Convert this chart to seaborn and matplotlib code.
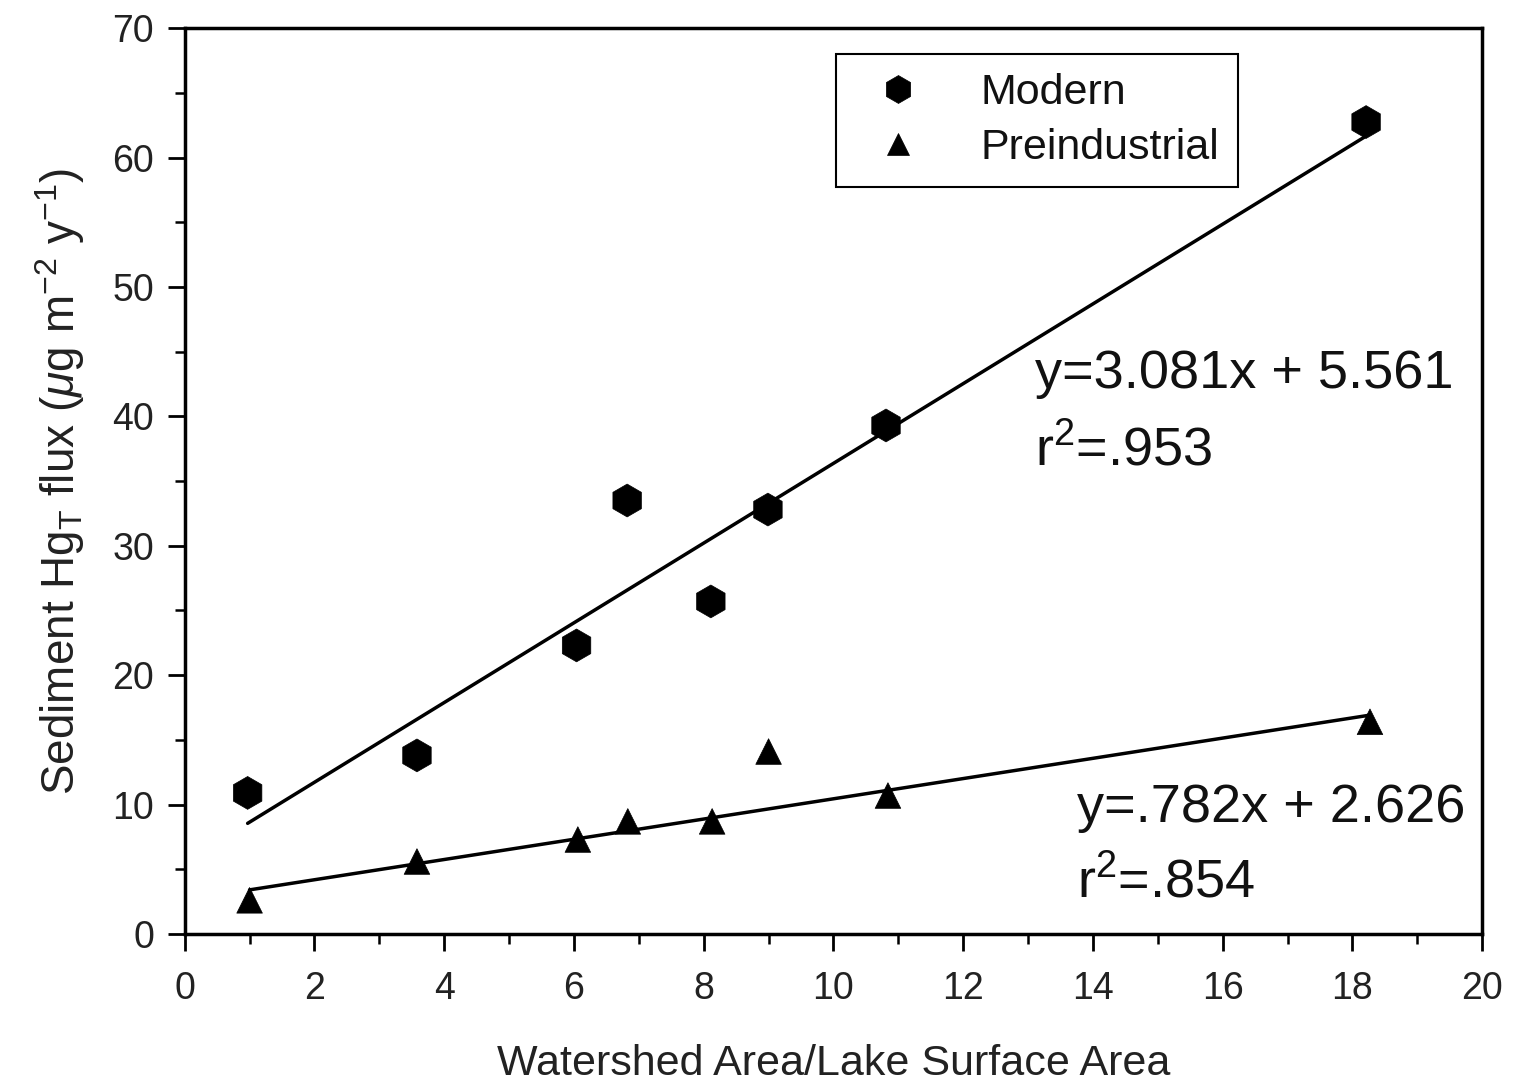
import numpy as np
import pandas as pd
import matplotlib
matplotlib.use("Agg")
import matplotlib.pyplot as plt
from matplotlib.ticker import MultipleLocator
import seaborn as sns

# Data
ratio_modern = [0.97, 3.58, 6.04, 6.82, 8.11, 8.99, 10.81, 18.21]
flux_modern = [10.9, 13.8, 22.3, 33.5, 25.7, 32.8, 39.3, 62.75]
ratio_pre = [1.0, 3.58, 6.06, 6.83, 8.13, 9.0, 10.84, 18.27]
flux_pre = [2.6, 5.6, 7.3, 8.7, 8.7, 14.1, 10.7, 16.4]

series_names = ["Modern", "Preindustrial"]
slopes = [3.081, 0.782]
intercepts = [5.561, 2.626]
r2_values = [".953", ".854"]

x_ticks = [0, 2, 4, 6, 8, 10, 12, 14, 16, 18, 20]
y_ticks = [0, 10, 20, 30, 40, 50, 60, 70]

sns.set_theme(style="white")
plt.rcParams["font.family"] = ["Liberation Sans", "DejaVu Sans"]
plt.rcParams["mathtext.fontset"] = "custom"
plt.rcParams["mathtext.rm"] = "Liberation Sans"
plt.rcParams["mathtext.it"] = "Liberation Sans:italic"

df = pd.DataFrame({
    "ratio": ratio_modern + ratio_pre,
    "flux": flux_modern + flux_pre,
    "series": ["Modern"] * len(ratio_modern) + ["Preindustrial"] * len(ratio_pre),
})

fig = plt.figure(figsize=(15.14, 10.86), dpi=100)
ax = fig.add_axes([0.122, 0.14, 0.857, 0.834])

# regression lines
for name, xs, m, b in zip(series_names, [ratio_modern, ratio_pre], slopes, intercepts):
    xe = np.array([min(xs), max(xs)])
    sns.lineplot(x=xe, y=m * xe + b, ax=ax, color="black", linewidth=2.5, legend=False)

sns.scatterplot(data=df, x="ratio", y="flux", style="series", size="series",
                markers={"Modern": "h", "Preindustrial": "^"},
                sizes={"Modern": 560, "Preindustrial": 340},
                color="black", edgecolor="black", linewidth=0.5, ax=ax, zorder=5)

ax.set_xlim(0, 20)
ax.set_ylim(0, 70)
ax.set_xticks(x_ticks)
ax.set_yticks(y_ticks)
ax.xaxis.set_minor_locator(MultipleLocator(1))
ax.yaxis.set_minor_locator(MultipleLocator(5))
ax.tick_params(axis="both", which="major", direction="out", length=12, width=2,
               labelsize=27, color="black", labelcolor="#222222",
               bottom=True, left=True)
ax.tick_params(axis="x", which="major", pad=15)
ax.tick_params(axis="y", which="major", pad=10)
ax.tick_params(axis="both", which="minor", direction="out", length=7, width=1.8,
               color="black", bottom=True, left=True)
for sp in ax.spines.values():
    sp.set_visible(True)
    sp.set_color("black")
    sp.set_linewidth(2.5)

ax.set_xlabel("Watershed Area/Lake Surface Area", fontsize=31, color="#222222", labelpad=26)
ax.set_ylabel(r"Sediment Hg$_\mathrm{T}$ flux ($\mu$g m$^{-2}$ y$^{-1}$)",
              fontsize=33, color="#222222", labelpad=18)

# equations
eq_kw = dict(fontsize=39, color="#111111", va="baseline", ha="left")
ax.text(13.1, 42.2, f"y={slopes[0]:.3f}x + {intercepts[0]:.3f}", **eq_kw)
ax.text(13.1, 36.2, r"r$^{2}$=" + r2_values[0], **eq_kw)
ax.text(13.75, 8.65, "y=" + f"{slopes[1]:.3f}".lstrip("0") + f"x + {intercepts[1]:.3f}", **eq_kw)
ax.text(13.75, 2.86, r"r$^{2}$=" + r2_values[1], **eq_kw)

leg = ax.legend(loc="upper left", bbox_to_anchor=(0.502, 0.972), fontsize=31,
                frameon=True, fancybox=False, edgecolor="black", framealpha=1,
                handletextpad=0.9, markerscale=0.85, borderpad=0.45,
                labelspacing=0.35, borderaxespad=0, handlelength=2.0, title=None)
leg.get_frame().set_linewidth(1.5)
for t in leg.get_texts():
    t.set_color("#111111")

fig.savefig("out.png", dpi=100)
